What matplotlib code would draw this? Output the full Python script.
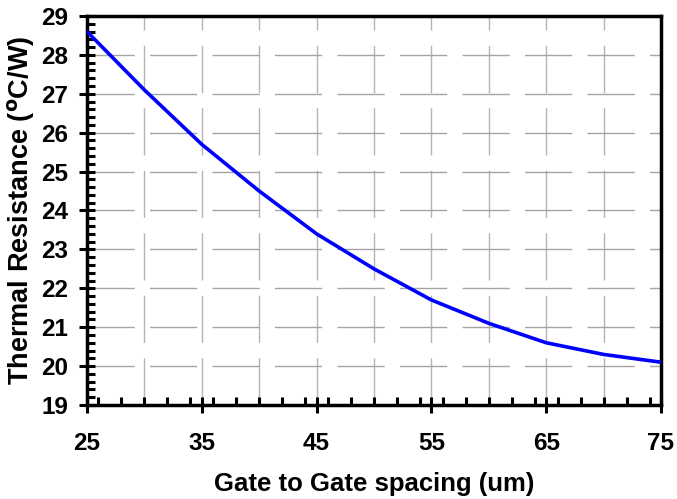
import numpy as np
import matplotlib.pyplot as plt
from matplotlib.ticker import MultipleLocator, FixedLocator

spacing = [25, 30, 35, 40, 45, 50, 55, 60, 65, 70, 75]
resistance = [28.6, 27.1, 25.7, 24.5, 23.4, 22.5, 21.7, 21.1, 20.6, 20.3, 20.1]
x_ticks = [25, 35, 45, 55, 65, 75]

plt.rcParams['font.family'] = ['Liberation Sans', 'DejaVu Sans']
plt.rcParams['font.weight'] = 'bold'

fig = plt.figure(figsize=(6.77, 4.99), dpi=100)
ax = fig.add_axes([87/677, 1 - 405/499, (661-87)/677, (405-16)/499])

ax.plot(spacing, resistance, color='#0000ff', lw=2.6, zorder=3)

ax.set_xlim(25, 75)
ax.set_ylim(19, 29)

# gridlines (x every 5, y every 1)
for gx in np.arange(30, 75, 5):
    ax.axvline(gx, color='#b4b4b4', lw=1.0, dashes=(34, 11), zorder=1)
for gy in np.arange(20, 29, 1):
    ax.axhline(gy, color='#a4a4a4', lw=1.0, dashes=(34, 11), zorder=1)

ax.xaxis.set_major_locator(FixedLocator(x_ticks))
ax.xaxis.set_minor_locator(MultipleLocator(2))
ax.yaxis.set_major_locator(MultipleLocator(1))
ax.yaxis.set_minor_locator(MultipleLocator(0.2))

ax.tick_params(which='major', direction='inout', length=11, width=2.2,
               labelsize=17.5, pad=6)
ax.tick_params(which='minor', direction='in', length=6, width=2.2)
ax.tick_params(axis='x', pad=14)
ax.tick_params(axis='y', pad=8)

for s in ax.spines.values():
    s.set_linewidth(2.5)

ax.set_xlabel('Gate to Gate spacing (um)', fontsize=18.5, fontweight='bold', labelpad=12)
ax.set_ylabel('Thermal Resistance ($^{\\mathbf{o}}$C/W)', fontsize=19.5, fontweight='bold', labelpad=3)

fig.savefig('out.png', dpi=100)
